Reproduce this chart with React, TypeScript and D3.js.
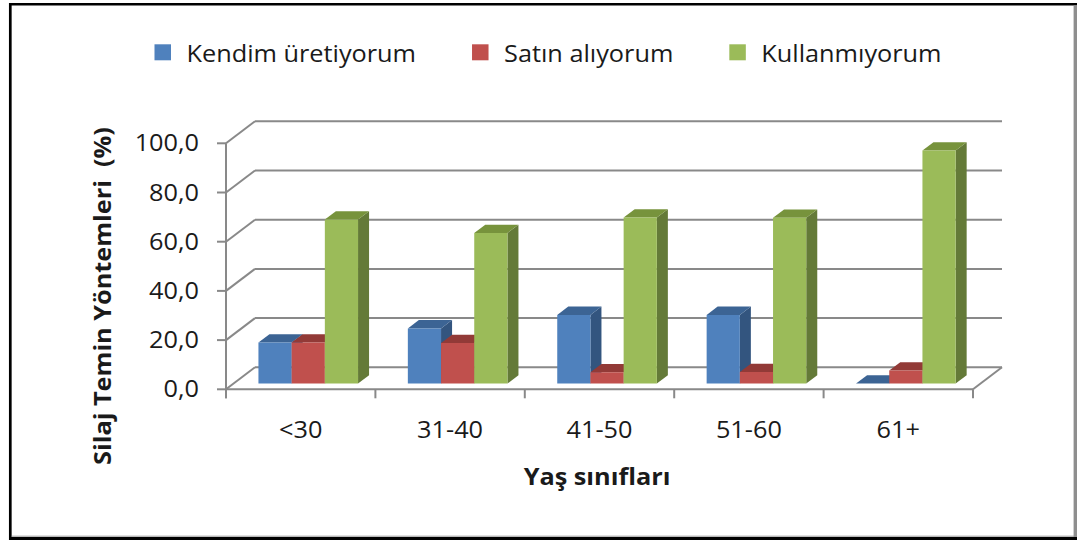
import React, { useEffect, useRef } from "react";
import * as d3 from "d3";

const categories = ["<30", "31-40", "41-50", "51-60", "61+"];
const seriesNames = ["Kendim üretiyorum", "Satın alıyorum", "Kullanmıyorum"];
const kendimUretiyorum = [16.7, 22.4, 27.9, 27.9, 0];
const satinAliyorum = [16.7, 16.5, 4.6, 4.7, 5.3];
const kullanmiyorum = [66.7, 61.2, 67.5, 67.4, 94.7];
const yTicks = [0, 20, 40, 60, 80, 100];
const yTitle = "Silaj Temin Yöntemleri  (%)";
const xTitle = "Yaş sınıfları";

const seriesValues = [kendimUretiyorum, satinAliyorum, kullanmiyorum];
const faceColors = [
  { front: "#4F81BD", top: "#3C6494", side: "#33557F" },
  { front: "#C0504D", top: "#923A37", side: "#7F3331" },
  { front: "#9BBB59", top: "#77933C", side: "#647A38" },
];

const W = 1077;
const H = 540;
const FONT = "'Open Sans', 'DejaVu Sans', sans-serif";
const SX = 1.1;

export default function App() {
  const ref = useRef<SVGSVGElement | null>(null);

  useEffect(() => {
    const svg = d3.select(ref.current);
    svg.selectAll("*").remove();

    // background + frame
    svg.append("rect").attr("x", 0).attr("y", 0).attr("width", W).attr("height", H).attr("fill", "#fff");
    svg.append("line").attr("x1", 9).attr("x2", W).attr("y1", 4.3).attr("y2", 4.3).attr("stroke", "#000").attr("stroke-width", 2.6);
    svg.append("line").attr("x1", 10.3).attr("x2", 10.3).attr("y1", 3).attr("y2", H).attr("stroke", "#000").attr("stroke-width", 2.7);
    svg.append("line").attr("x1", 9).attr("x2", W).attr("y1", 538.6).attr("y2", 538.6).attr("stroke", "#000").attr("stroke-width", 3);
    svg.append("line").attr("x1", 12).attr("x2", W).attr("y1", 536.2).attr("y2", 536.2).attr("stroke", "#9a9a9a").attr("stroke-width", 1);
    svg.append("line").attr("x1", 1075.3).attr("x2", 1075.3).attr("y1", 5.5).attr("y2", 537).attr("stroke", "#8e8e8e").attr("stroke-width", 3.4);

    // scales
    const yScale = d3.scaleLinear().domain([0, 100]).range([389.3, 143.3]);
    const xBand = d3.scaleBand<string>().domain(categories).range([226, 973]).padding(0);
    const sBand = d3
      .scaleBand<string>()
      .domain(seriesNames)
      .range([0, xBand.bandwidth()])
      .paddingInner(0)
      .paddingOuter(0.75);
    const DX = 29;
    const DY = -22;
    const t0 = 0.26;
    const t1 = 0.64;
    const P = (x: number, v: number, t: number): [number, number] => [x + t * DX, yScale(v) + t * DY];
    const poly = (pts: [number, number][]) => pts.map((p) => p.join(",")).join(" ");

    const grid = "#898989";
    const g = svg.append("g");
    const xLeft = xBand.range()[0];
    const xRight = xBand.range()[1];

    // back wall gridlines + left wall diagonals
    yTicks.forEach((v) => {
      const a = P(xLeft, v, 1);
      const b = P(xRight, v, 1);
      g.append("line").attr("x1", a[0]).attr("y1", a[1]).attr("x2", b[0]).attr("y2", b[1]).attr("stroke", grid).attr("stroke-width", 2);
      const f = P(xLeft, v, 0);
      g.append("line").attr("x1", f[0]).attr("y1", f[1]).attr("x2", a[0]).attr("y2", a[1]).attr("stroke", grid).attr("stroke-width", 2);
      g.append("line").attr("x1", f[0] - 9).attr("y1", f[1]).attr("x2", f[0]).attr("y2", f[1]).attr("stroke", grid).attr("stroke-width", 2);
    });
    // floor: front edge and right edge
    const fl = P(xLeft, 0, 0);
    const fr = P(xRight, 0, 0);
    const br = P(xRight, 0, 1);
    g.append("line").attr("x1", fl[0]).attr("y1", fl[1]).attr("x2", fr[0]).attr("y2", fr[1]).attr("stroke", grid).attr("stroke-width", 2);
    g.append("line").attr("x1", fr[0]).attr("y1", fr[1]).attr("x2", br[0]).attr("y2", br[1]).attr("stroke", grid).attr("stroke-width", 2);
    // front value axis
    const ft = P(xLeft, 100, 0);
    g.append("line").attr("x1", ft[0]).attr("y1", ft[1]).attr("x2", fl[0]).attr("y2", fl[1] + 9).attr("stroke", grid).attr("stroke-width", 2);
    // category ticks
    const bounds = categories.map((c) => xBand(c) as number).concat([xRight]);
    bounds.forEach((x) => {
      const p = P(x, 0, 0);
      g.append("line").attr("x1", p[0]).attr("y1", p[1]).attr("x2", p[0]).attr("y2", p[1] + 9).attr("stroke", grid).attr("stroke-width", 2);
    });

    // bars
    const bars = svg.append("g");
    categories.forEach((c, i) => {
      seriesNames.forEach((s, k) => {
        const v = seriesValues[k][i];
        const x0 = (xBand(c) as number) + (sBand(s) as number);
        const x1 = x0 + sBand.bandwidth();
        const col = faceColors[k];
        if (v > 0) {
          bars.append("polygon")
            .attr("points", poly([P(x1, 0, t0), P(x1, 0, t1), P(x1, v, t1), P(x1, v, t0)]))
            .attr("fill", col.side);
        }
        bars.append("polygon")
          .attr("points", poly([P(x0, v, t0), P(x1, v, t0), P(x1, v, t1), P(x0, v, t1)]))
          .attr("fill", col.top);
        if (v > 0) {
          bars.append("polygon")
            .attr("points", poly([P(x0, 0, t0), P(x1, 0, t0), P(x1, v, t0), P(x0, v, t0)]))
            .attr("fill", col.front);
        }
      });
    });

    const txt = (parent: any, x: number, y: number, s: string, size: number, anchor: string, bold = false, rot = 0) =>
      parent
        .append("text")
        .attr("transform", `translate(${x},${y}) rotate(${rot}) scale(${SX},1)`)
        .attr("text-anchor", anchor)
        .attr("font-family", FONT)
        .attr("font-size", size)
        .attr("font-weight", bold ? "bold" : "normal")
        .attr("fill", "#1a1a1a")
        .style("white-space", "pre")
        .text(s);

    // y labels
    const fmt = d3.format(".1f");
    yTicks.forEach((v) => {
      txt(svg, 199, yScale(v) + 8, fmt(v).replace(".", ","), 23, "end");
    });
    // x labels
    categories.forEach((c) => {
      const x = (xBand(c) as number) + xBand.bandwidth() / 2;
      txt(svg, x, 438, c, 23, "middle");
    });
    // titles
    txt(svg, 597, 485, xTitle, 23, "middle", true);
    txt(svg, 111, 296, yTitle, 23, "middle", true, -90);

    // legend
    const leg = svg.append("g");
    const items = seriesNames.map((s, k) => {
      const t = txt(leg, 0, 61.5, s, 23, "start");
      const w = (t.node() as SVGTextElement).getComputedTextLength() * SX;
      return { t, w, k };
    });
    const sq = 16.5;
    const sqGap = 15.5;
    const itemGap = 56;
    const total = items.reduce((a, it) => a + sq + sqGap + it.w, 0) + itemGap * (items.length - 1);
    let cx = 548 - total / 2;
    items.forEach((it) => {
      leg.append("rect").attr("x", cx).attr("y", 44.3).attr("width", sq).attr("height", 16).attr("fill", faceColors[it.k].front);
      it.t.attr("transform", `translate(${cx + sq + sqGap},61.5) scale(${SX},1)`);
      cx += sq + sqGap + it.w + itemGap;
    });
  }, []);

  return (
    <svg
      ref={ref}
      width={W}
      height={H}
      style={{ position: "absolute", left: 0, top: 0, display: "block" }}
    />
  );
}
